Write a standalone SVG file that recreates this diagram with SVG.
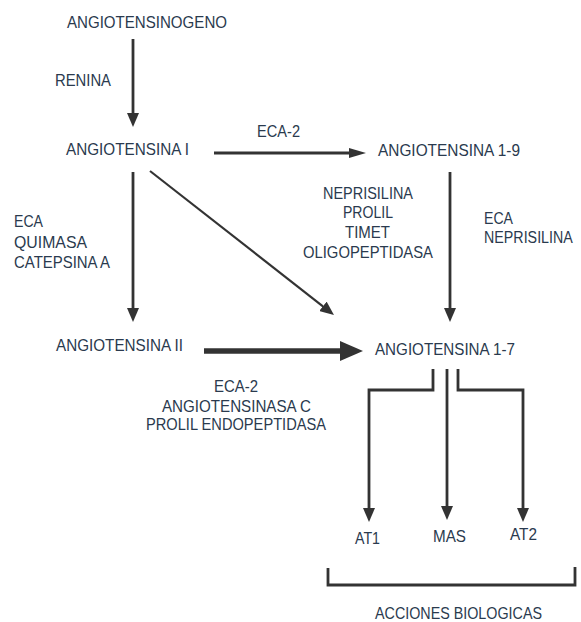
<svg xmlns="http://www.w3.org/2000/svg" width="581" height="622" viewBox="0 0 581 622">
<style>
text{font-family:"Liberation Sans","DejaVu Sans",sans-serif;font-size:17px;fill:#2a3a4e}
.c{fill:none;stroke:#333;stroke-width:2.8}
</style>
<defs>
<marker id="a" viewBox="0 0 14 12" refX="4" refY="6" markerWidth="14" markerHeight="12" markerUnits="userSpaceOnUse" orient="auto"><path d="M0,0 L14,6 L0,12 z" fill="#333"/></marker>
<marker id="ah" viewBox="0 0 17 10" refX="4" refY="5" markerWidth="17" markerHeight="10" markerUnits="userSpaceOnUse" orient="auto"><path d="M0,0 L17,5 L0,10 z" fill="#333"/></marker>
<marker id="at" viewBox="0 0 23 20" refX="5" refY="10" markerWidth="23" markerHeight="20" markerUnits="userSpaceOnUse" orient="auto"><path d="M0,0 L23,10 L0,20 z" fill="#333"/></marker>
</defs>
<rect width="581" height="622" fill="#fff"/>
<g id="connectors">
<path class="c" d="M133,39 V117" marker-end="url(#a)"/>
<path class="c" d="M214,153 H353" marker-end="url(#ah)"/>
<path class="c" d="M133,172 V312" marker-end="url(#a)"/>
<path class="c" style="stroke-width:2.2" d="M150,171 L326.1,308.8" marker-end="url(#a)"/>
<path class="c" d="M450,172 V312" marker-end="url(#a)"/>
<path class="c" style="stroke-width:5.5" d="M204,351 H345" marker-end="url(#at)"/>
<path class="c" d="M433,369 V390 H369 V512" marker-end="url(#a)"/>
<path class="c" d="M447,369 V510" marker-end="url(#a)"/>
<path class="c" d="M458,369 V390 H523 V512" marker-end="url(#a)"/>
<path class="c" d="M328,568 V585 H575 V567"/>
</g>
<g id="angiotensinogeno"><text x="67" y="28" textLength="160" lengthAdjust="spacingAndGlyphs">ANGIOTENSINOGENO</text></g>
<g id="renina"><text x="55" y="86" textLength="56" lengthAdjust="spacingAndGlyphs">RENINA</text></g>
<g id="ang1"><text x="66" y="155" textLength="123" lengthAdjust="spacingAndGlyphs">ANGIOTENSINA I</text></g>
<g id="eca2-top"><text x="257" y="137" textLength="43" lengthAdjust="spacingAndGlyphs">ECA-2</text></g>
<g id="ang19"><text x="378" y="156" textLength="142" lengthAdjust="spacingAndGlyphs">ANGIOTENSINA 1-9</text></g>
<g id="enz-mid">
<text x="323" y="199" textLength="90" lengthAdjust="spacingAndGlyphs">NEPRISILINA</text>
<text x="343" y="218" textLength="50" lengthAdjust="spacingAndGlyphs">PROLIL</text>
<text x="345" y="238" textLength="45" lengthAdjust="spacingAndGlyphs">TIMET</text>
<text x="303" y="258" textLength="130" lengthAdjust="spacingAndGlyphs">OLIGOPEPTIDASA</text>
</g>
<g id="enz-right">
<text x="484" y="224" textLength="29" lengthAdjust="spacingAndGlyphs">ECA</text>
<text transform="matrix(0.84 0 0 1 484 243)">NEPRISILINA</text>
</g>
<g id="enz-left">
<text x="14" y="227" textLength="29" lengthAdjust="spacingAndGlyphs">ECA</text>
<text x="14" y="248" textLength="73" lengthAdjust="spacingAndGlyphs">QUIMASA</text>
<text x="14" y="268" textLength="96" lengthAdjust="spacingAndGlyphs">CATEPSINA A</text>
</g>
<g id="ang2"><text x="56" y="351" textLength="127" lengthAdjust="spacingAndGlyphs">ANGIOTENSINA II</text></g>
<g id="enz-bottom">
<text x="214" y="392" textLength="44" lengthAdjust="spacingAndGlyphs">ECA-2</text>
<text x="162" y="412" textLength="149" lengthAdjust="spacingAndGlyphs">ANGIOTENSINASA C</text>
<text x="146" y="430" textLength="180" lengthAdjust="spacingAndGlyphs">PROLIL ENDOPEPTIDASA</text>
</g>
<g id="ang17"><text x="375" y="355" textLength="140" lengthAdjust="spacingAndGlyphs">ANGIOTENSINA 1-7</text></g>
<g id="at1"><text x="355" y="544" textLength="25" lengthAdjust="spacingAndGlyphs">AT1</text></g>
<g id="mas"><text x="433" y="542" textLength="33" lengthAdjust="spacingAndGlyphs">MAS</text></g>
<g id="at2"><text x="510" y="540" textLength="27" lengthAdjust="spacingAndGlyphs">AT2</text></g>
<g id="acciones"><text x="375" y="619" textLength="167" lengthAdjust="spacingAndGlyphs">ACCIONES BIOLOGICAS</text></g>
</svg>
